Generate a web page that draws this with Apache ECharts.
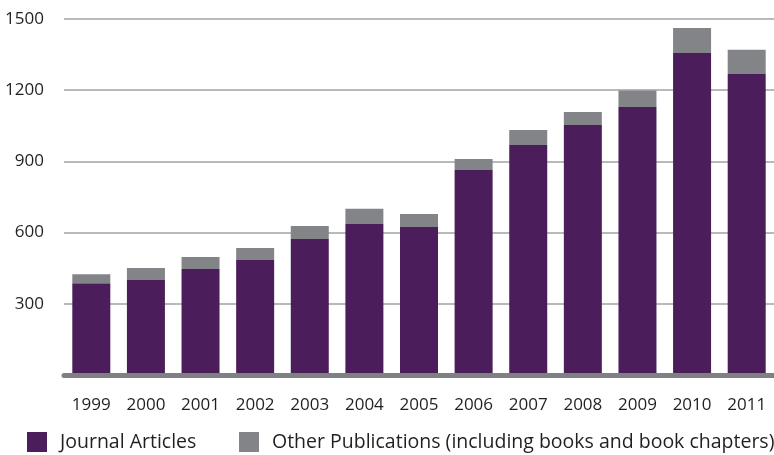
<!DOCTYPE html>
<html>
<head>
<meta charset="utf-8">
<script src="https://cdn.jsdelivr.net/npm/echarts@6/dist/echarts.min.js"></script>
<style>
html,body{margin:0;padding:0;background:#fff;}
#chart{width:774px;height:455px;}
</style>
</head>
<body>
<div id="chart"></div>
<script>
var years = ['1999','2000','2001','2002','2003','2004','2005','2006','2007','2008','2009','2010','2011'];
var journalArticles = [387, 400, 447, 485, 573, 636, 624, 864, 969, 1053, 1129, 1357, 1268];
var otherPublications = [38, 51, 50, 50, 55, 64, 54, 46, 63, 55, 70, 105, 102];
var yTicks = [0, 300, 600, 900, 1200, 1500];
var seriesNames = ['Journal Articles', 'Other Publications (including books and book chapters)'];

var FONT = 'Open Sans';
var chart = echarts.init(document.getElementById('chart'), null, {renderer: 'canvas'});
chart.setOption({
  animation: false,
  textStyle: {fontFamily: FONT},
  grid: {left: 64, width: 715, top: 19, bottom: 80, containLabel: false},
  legend: [
    {data: [seriesNames[0]], left: 27, top: 432, padding: 0, itemWidth: 20, itemHeight: 20, icon: 'rect',
     textStyle: {fontFamily: FONT, fontSize: 19.5, lineHeight: 20, color: '#231f20', padding: [0, 0, 0, 8]}},
    {data: [seriesNames[1]], left: 239, top: 432, padding: 0, itemWidth: 20, itemHeight: 20, icon: 'rect',
     textStyle: {fontFamily: FONT, fontSize: 19.5, lineHeight: 20, color: '#231f20', padding: [0, 0, 0, 8]}}
  ],
  xAxis: {
    type: 'category',
    data: years,
    z: 3,
    axisLine: {show: true, lineStyle: {color: '#7f8083', width: 5}},
    axisTick: {show: false},
    axisLabel: {fontFamily: FONT, fontSize: 17, color: '#231f20', margin: 22}
  },
  yAxis: {
    type: 'value',
    min: yTicks[0],
    max: yTicks[yTicks.length - 1],
    interval: 300,
    axisLine: {show: false},
    axisTick: {show: false},
    splitLine: {show: true, lineStyle: {color: '#a0a2a3', width: 1.5}},
    axisLabel: {fontFamily: FONT, fontSize: 17, color: '#231f20', margin: 20,
      formatter: function (v) { return v === 0 ? '' : String(v); }}
  },
  series: [
    {name: seriesNames[0], type: 'bar', stack: 'total', data: journalArticles, barWidth: 38,
     itemStyle: {color: '#4b1e5b'}},
    {name: seriesNames[1], type: 'bar', stack: 'total', data: otherPublications, barWidth: 38,
     itemStyle: {color: '#838488'}}
  ]
});
</script>
</body>
</html>
